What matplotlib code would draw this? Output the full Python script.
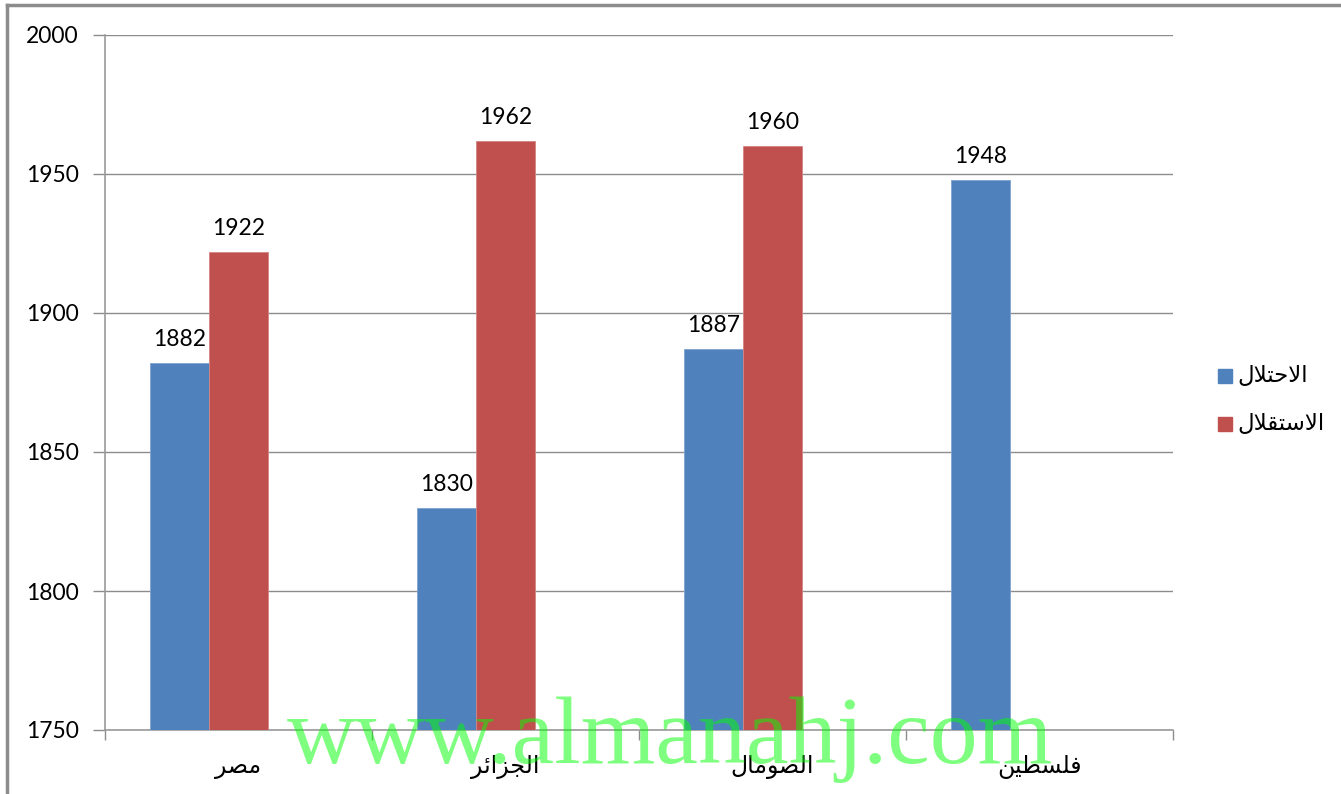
import matplotlib
matplotlib.use("Agg")
import matplotlib.pyplot as plt
from matplotlib.patches import Rectangle
from matplotlib.lines import Line2D
import matplotlib.transforms as mtrans
import numpy as np

# ---- data ----
categories = ["مصر", "الجزائر", "الصومال", "فلسطين"]
occupation = [1882, 1830, 1887, 1948]          # الاحتلال
independence = [1922, 1962, 1960, None]        # الاستقلال
series_names = ["الاحتلال", "الاستقلال"]
y_ticks = [1750, 1800, 1850, 1900, 1950, 2000]
watermark = "www.almanahj.com"

# ---- minimal Arabic shaping (presentation forms, visual order) ----
FORMS = {  # iso, fin, ini, med
    "ا": (0xFE8D, 0xFE8E, None, None),
    "ل": (0xFEDD, 0xFEDE, 0xFEDF, 0xFEE0),
    "ج": (0xFE9D, 0xFE9E, 0xFE9F, 0xFEA0),
    "ز": (0xFEAF, 0xFEB0, None, None),
    "ئ": (0xFE89, 0xFE8A, 0xFE8B, 0xFE8C),
    "ر": (0xFEAD, 0xFEAE, None, None),
    "م": (0xFEE1, 0xFEE2, 0xFEE3, 0xFEE4),
    "ص": (0xFEB9, 0xFEBA, 0xFEBB, 0xFEBC),
    "و": (0xFEED, 0xFEEE, None, None),
    "ف": (0xFED1, 0xFED2, 0xFED3, 0xFED4),
    "س": (0xFEB1, 0xFEB2, 0xFEB3, 0xFEB4),
    "ط": (0xFEC1, 0xFEC2, 0xFEC3, 0xFEC4),
    "ي": (0xFEF1, 0xFEF2, 0xFEF3, 0xFEF4),
    "ن": (0xFEE5, 0xFEE6, 0xFEE7, 0xFEE8),
    "ح": (0xFEA1, 0xFEA2, 0xFEA3, 0xFEA4),
    "ت": (0xFE95, 0xFE96, 0xFE97, 0xFE98),
    "ق": (0xFED5, 0xFED6, 0xFED7, 0xFED8),
    "LA": (0xFEFB, 0xFEFC, None, None),
}


def shape(word):
    units = []
    i = 0
    while i < len(word):
        if word[i] == "ل" and i + 1 < len(word) and word[i + 1] == "ا":
            units.append("LA")
            i += 2
        else:
            units.append(word[i])
            i += 1
    out = []
    for k, u in enumerate(units):
        iso, fin, ini, med = FORMS[u]
        prev_joins = k > 0 and FORMS[units[k - 1]][2] is not None
        next_joins = ini is not None and k + 1 < len(units)
        if prev_joins and next_joins:
            cp = med
        elif next_joins:
            cp = ini
        elif prev_joins:
            cp = fin
        else:
            cp = iso
        out.append(chr(cp))
    return "".join(reversed(out))


plt.rcParams["font.family"] = ["Lato", "DejaVu Sans"]

W, H = 1341, 794
fig = plt.figure(figsize=(W / 100, H / 100), dpi=100)
ax = fig.add_axes([105 / W, 1 - 730 / H, (1173 - 105) / W, (730 - 35) / H])

blue = "#4F81BD"
red = "#C0504D"
bw = 0.222
x = np.arange(len(categories))
lift = mtrans.ScaledTranslation(0, 17 / 100, fig.dpi_scale_trans)

for i, v in enumerate(occupation):
    ax.bar(x[i] - bw, v - 1750, bottom=1750, width=bw, color=blue,
           edgecolor="#7FA3D1", linewidth=0.6, zorder=3)
    ax.text(x[i] - bw, v, str(v), ha="center", va="baseline", fontsize=16.5,
            transform=ax.transData + lift, zorder=4)
for i, v in enumerate(independence):
    if v is None:
        continue
    ax.bar(x[i], v - 1750, bottom=1750, width=bw, color=red,
           edgecolor="#D58583", linewidth=0.6, zorder=3)
    ax.text(x[i], v, str(v), ha="center", va="baseline", fontsize=16.5,
            transform=ax.transData + lift, zorder=4)

ax.set_xlim(-0.5, len(categories) - 0.5)
ax.set_ylim(1750, 2000)
ax.set_yticks(y_ticks)
ax.set_yticklabels([str(t) for t in y_ticks], fontsize=16.5)
ax.grid(axis="y", color="#8C8C8C", linewidth=1.0, zorder=0)
ax.set_axisbelow(True)

ax.set_xticks(x)
ax.set_xticklabels([shape(c) for c in categories], fontsize=17,
                   family=["DejaVu Sans"])
ax.set_xticks(np.arange(-0.5, len(categories)), minor=True)
ax.tick_params(axis="x", which="major", length=0, pad=18)
ax.tick_params(axis="x", which="minor", length=7, width=1, color="#8C8C8C", direction="out")
ax.tick_params(axis="y", length=9, width=1, color="#8C8C8C", direction="out", pad=10)

for s in ["top", "right"]:
    ax.spines[s].set_visible(False)
for s in ["left", "bottom"]:
    ax.spines[s].set_color("#9A9A9A")
    ax.spines[s].set_linewidth(1.2)

# legend
leg_items = [(series_names[0], blue, 376), (series_names[1], red, 424)]
for name, col, yc in leg_items:
    fig.patches.append(Rectangle((1218 / W, 1 - (yc + 7) / H), 14 / W, 14 / H,
                                 transform=fig.transFigure, color=col))
    fig.text(1237 / W, 1 - yc / H, shape(name), ha="left", va="center",
             fontsize=16.5, family=["DejaVu Sans"])

# outer border
fig.add_artist(Line2D([7 / W, 1], [1 - 5 / H, 1 - 5 / H], transform=fig.transFigure,
                      color="#8C8C8C", linewidth=2.5))
fig.add_artist(Line2D([7 / W, 7 / W], [0, 1 - 5 / H], transform=fig.transFigure,
                      color="#8C8C8C", linewidth=2.5))

# watermark
fig.text(670 / W, 1 - 763 / H, watermark, ha="center", va="baseline",
         fontsize=69, family=["Liberation Serif"], color="#00FF00", alpha=0.5,
         zorder=10)

fig.savefig("out.png", dpi=100)
